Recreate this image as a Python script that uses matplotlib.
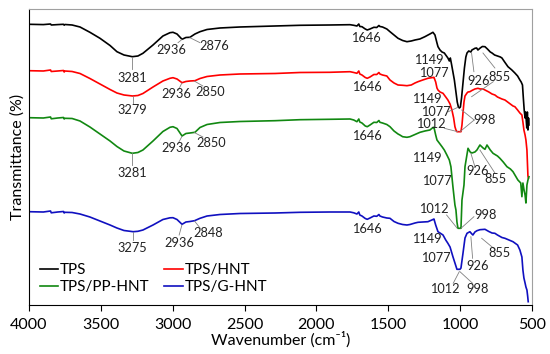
import matplotlib
matplotlib.use("Agg")
import matplotlib.pyplot as plt

plt.rcParams['font.family'] = ['Lato', 'DejaVu Sans']

# ---------------- data (wavenumber, offset transmittance, a.u.) ----------------
tps_wn = [4000, 3900, 3850, 3845, 3800, 3760, 3755, 3750, 3700, 3645, 3576, 3506, 3436, 3388, 3339,
          3281, 3242, 3207, 3137, 3068, 3019, 2998, 2970, 2935, 2908, 2880, 2845, 2810, 2761, 2671,
          2532, 2288, 2114, 1906, 1766, 1740, 1718, 1705, 1698, 1683, 1660, 1646, 1627, 1600, 1580,
          1565, 1558, 1540, 1510, 1488, 1460, 1432, 1400, 1370, 1340, 1314, 1280, 1245, 1210, 1189,
          1175, 1161, 1154, 1140, 1126, 1110, 1095, 1085, 1075, 1068, 1060, 1050, 1040, 1029, 1020,
          1012, 1005, 998, 990, 980, 970, 960, 952, 940, 925, 918, 905, 897, 885, 876, 860, 845, 827,
          810, 790, 778, 760, 740, 720, 709, 690, 667, 640, 619, 600, 584, 575, 566, 560, 554, 548,
          544, 540, 536, 532, 528, 524, 521]
tps_t = [280.7, 280.4, 281.0, 280.0, 280.4, 280.7, 279.8, 280.5, 280.0, 278.0, 272.7, 266.7, 259.5, 253.3, 250.0,
         248.3, 249.0, 251.7, 260.0, 269.0, 272.3, 272.7, 271.0, 265.7, 267.5, 267.7, 271.0, 273.3, 275.5, 277.0,
         278.0, 279.0, 279.7, 280.0, 280.3, 279.7, 279.0, 281.0, 278.5, 278.3, 276.0, 275.0, 276.0, 277.7, 277.5,
         279.5, 278.5, 278.0, 276.0, 273.3, 270.0, 266.7, 264.5, 263.3, 264.0, 265.0, 266.0, 268.3, 271.0, 272.7,
         270.0, 262.0, 258.3, 255.0, 253.0, 252.0, 249.0, 247.0, 244.0, 247.0, 241.0, 233.0, 225.0, 213.0, 203.0,
         198.0, 197.0, 198.0, 207.0, 222.0, 237.0, 248.0, 252.0, 254.0, 253.0, 255.0, 256.0, 256.7, 257.0, 255.0, 257.0, 258.5, 258.3,
         256.0, 253.0, 252.0, 250.0, 249.0, 248.0, 247.0, 243.0, 238.3, 235.0, 232.0, 229.0, 225.0, 223.0, 220.0, 207.0, 195.0, 187.0,
         193.0, 185.0, 177.0, 193.0, 175.0, 187.0, 180.0]

hnt_wn = [4000, 3900, 3850, 3845, 3800, 3760, 3755, 3750, 3700, 3645, 3576, 3506, 3436, 3388, 3339,
          3279, 3242, 3207, 3137, 3068, 3019, 2998, 2970, 2935, 2908, 2880, 2845, 2810, 2761, 2671,
          2532, 2288, 2114, 1906, 1766, 1740, 1718, 1705, 1698, 1683, 1660, 1646, 1627, 1600, 1580,
          1565, 1558, 1540, 1510, 1488, 1460, 1432, 1400, 1370, 1340, 1314, 1293, 1260, 1224, 1189,
          1182, 1170, 1161, 1154, 1140, 1119, 1100, 1085, 1070, 1057, 1045, 1036, 1029, 1022, 1012,
          1001, 994, 987, 980, 973, 966, 952, 945, 932, 918, 897, 876, 860, 840, 827, 800, 778, 758,
          740, 709, 688, 660, 632, 619, 600, 584, 570, 563, 556, 548, 542, 535, 531, 528, 525]
hnt_t = [234.3, 234.0, 235.0, 233.5, 234.0, 234.5, 233.0, 234.0, 233.5, 231.5, 226.5, 221.0, 215.5, 212.0, 210.0,
         209.0, 209.5, 211.5, 218.0, 224.0, 226.7, 227.3, 226.0, 222.3, 223.5, 224.0, 224.3, 226.5, 228.5, 230.0,
         231.0, 231.5, 232.5, 232.7, 233.3, 232.5, 231.7, 234.0, 231.0, 230.0, 227.5, 226.7, 228.0, 230.5, 230.5,
         232.5, 231.0, 230.0, 229.0, 225.0, 222.0, 220.0, 219.7, 219.3, 220.0, 222.0, 223.3, 225.0, 226.7, 227.5,
         227.7, 223.0, 217.0, 215.0, 213.0, 211.7, 208.0, 205.0, 201.0, 195.0, 187.0, 178.3, 175.0, 173.3, 173.3,
         173.3, 173.3, 180.0, 192.0, 203.0, 209.0, 212.0, 213.0, 213.3, 214.5, 216.0, 216.7, 216.0, 216.0, 215.0, 213.0, 211.0, 210.0,
         208.0, 206.0, 205.0, 202.0, 199.0, 198.3, 195.0, 192.0, 190.0, 183.0, 175.0, 170.0, 165.0, 155.0, 140.0, 129.0, 127.0]

pp_wn = [4000, 3900, 3850, 3845, 3800, 3760, 3755, 3750, 3700, 3645, 3576, 3506, 3436, 3388, 3339,
         3281, 3242, 3207, 3137, 3068, 3019, 2998, 2970, 2935, 2908, 2880, 2845, 2810, 2761, 2671,
         2532, 2288, 2114, 1906, 1766, 1740, 1718, 1705, 1698, 1683, 1660, 1646, 1627, 1600, 1580,
         1565, 1558, 1540, 1510, 1488, 1460, 1432, 1419, 1400, 1370, 1349, 1314, 1279, 1245, 1210,
         1189, 1182, 1170, 1161, 1140, 1126, 1110, 1092, 1075, 1064, 1050, 1036, 1029, 1022, 1015,
         1001, 994, 987, 973, 966, 945, 930, 918, 897, 883, 862, 840, 827, 813, 790, 771, 740, 723,
         700, 674, 650, 632, 598, 578, 570, 563, 555, 548, 542, 535, 528, 521]
pp_t = [187.3, 187.0, 188.0, 186.2, 187.0, 187.5, 186.0, 186.7, 186.5, 184.0, 178.0, 171.0, 164.0, 158.5, 154.0,
        151.7, 152.5, 155.0, 164.0, 173.5, 177.7, 178.3, 176.5, 169.0, 171.5, 172.0, 172.7, 177.5, 180.5, 182.5,
        183.5, 184.3, 185.3, 185.7, 186.0, 185.0, 183.3, 186.0, 183.0, 182.0, 179.0, 178.3, 180.0, 182.7, 182.5,
        184.5, 182.7, 182.0, 180.5, 178.3, 174.0, 171.0, 170.0, 168.3, 167.7, 168.3, 170.5, 172.7, 174.0, 175.0,
        177.5, 177.7, 170.0, 165.0, 161.0, 158.3, 155.0, 150.0, 145.0, 138.3, 118.3, 100.0, 95.0, 83.0, 76.7,
        76.7, 76.7, 105.0, 120.0, 138.3, 156.7, 153.0, 152.0, 153.0, 155.0, 160.0, 157.0, 155.7, 160.0, 155.0, 151.7, 149.0, 146.7,
        143.0, 138.3, 136.0, 133.3, 125.0, 122.0, 108.3, 122.0, 115.0, 110.0, 102.0, 120.0, 125.0, 128.3]

g_wn = [4000, 3900, 3850, 3845, 3800, 3760, 3755, 3750, 3700, 3645, 3576, 3506, 3436, 3388, 3339,
        3275, 3242, 3207, 3137, 3068, 3019, 2998, 2970, 2935, 2908, 2880, 2848, 2810, 2761, 2671,
        2532, 2288, 2114, 1906, 1766, 1740, 1718, 1705, 1698, 1683, 1660, 1646, 1627, 1600, 1580,
        1565, 1558, 1540, 1510, 1488, 1460, 1432, 1400, 1370, 1349, 1314, 1293, 1260, 1224, 1189,
        1182, 1170, 1154, 1140, 1119, 1100, 1085, 1070, 1050, 1036, 1022, 1012, 1001, 994, 980,
        966, 952, 932, 918, 911, 897, 883, 862, 827, 800, 778, 758, 740, 709, 688, 660, 632, 600,
        584, 570, 563, 556, 548, 542, 535, 530, 526]
g_t = [93.3, 93.0, 94.0, 92.2, 93.0, 93.5, 92.0, 92.7, 92.5, 91.0, 88.0, 84.0, 80.0, 77.0, 74.5,
       73.3, 73.7, 75.0, 80.0, 85.5, 87.2, 87.3, 85.5, 80.7, 83.0, 83.5, 84.3, 86.7, 89.0, 90.5,
       91.5, 92.0, 92.7, 93.0, 93.0, 92.2, 91.0, 93.0, 90.0, 89.0, 86.5, 85.7, 87.0, 89.0, 88.7,
       90.5, 89.0, 88.0, 87.0, 86.7, 83.5, 81.7, 80.5, 80.0, 80.5, 82.0, 82.7, 83.0, 83.3, 85.5,
       86.0, 80.0, 73.3, 72.0, 70.0, 65.0, 61.7, 58.0, 48.3, 42.0, 35.7, 35.7, 35.7, 37.0, 51.7,
       67.0, 71.7, 73.3, 71.0, 70.0, 73.0, 74.3, 75.3, 75.7, 73.5, 72.0, 71.7, 70.0, 67.5, 66.7, 65.0, 63.3, 60.0,
       55.0, 48.0, 35.0, 27.0, 22.0, 18.0, 15.0, 9.0, 3.3]

series = [
    ("TPS", tps_wn, tps_t, "#000000"),
    ("TPS/HNT", hnt_wn, hnt_t, "#ff0000"),
    ("TPS/PP-HNT", pp_wn, pp_t, "#118811"),
    ("TPS/G-HNT", g_wn, g_t, "#1010c0"),
]

# peak labels: (text, x, y, leader segments)
annotations = [
    ("3281", 3281, 227, [((3281, 248), (3281, 236))]),
    ("2936", 3007, 255, [((2936, 265.5), (2963, 262.3))]),
    ("2876", 2713, 259, [((2880, 267.3), (2810, 262.3))]),
    ("3279", 3281, 195, [((3279, 209), (3279, 201))]),
    ("2936", 2972, 210.7, [((2936, 222), (2960, 215))]),
    ("2850", 2741, 212.7, [((2850, 224), (2790, 219))]),
    ("3281", 3281, 132.3, [((3281, 151.5), (3281, 140))]),
    ("2936", 2977, 156.7, [((2936, 168.5), (2960, 162))]),
    ("2850", 2729, 161.7, [((2850, 172.5), (2790, 168))]),
    ("3275", 3281, 56.7, [((3275, 73), (3275, 65))]),
    ("2936", 2954, 62.3, [((2936, 80), (2955, 70))]),
    ("2848", 2752, 72.3, [((2848, 84), (2808, 76.7))]),
    ("1646", 1655, 266.7, []),
    ("1646", 1650, 217.7, []),
    ("1646", 1650, 169, []),
    ("1646", 1650, 75.7, []),
    ("1149", 1215, 245, []),
    ("1077", 1180, 232.3, []),
    ("926", 869, 224, [((920, 251.7), (904, 233.3))]),
    ("855", 723, 228.3, [((841, 252), (758, 237)), ((769, 223.3), (920, 208.3))]),
    ("1149", 1233, 205.7, []),
    ("1077", 1170, 193.3, [((1082, 193.3), (1015, 197.7))]),
    ("1012", 1203, 181, [((1110, 176.7), (1017, 173.3))]),
    ("998", 832, 185, [((902, 185), (989, 195)), ((902, 185), (1001, 173.3))]),
    ("1149", 1233, 146.7, []),
    ("1077", 1159, 124.3, []),
    ("926", 878, 134.3, [((925, 151.7), (897, 138.3))]),
    ("855", 751, 126, [((862, 155), (758, 132))]),
    ("1012", 1182, 95.7, [((1094, 90), (1020, 76.7))]),
    ("998", 820, 90, [((904, 88.3), (994, 76.7))]),
    ("1149", 1229, 65.7, []),
    ("1077", 1168, 47.3, []),
    ("926", 881, 39.3, [((925, 68.3), (913, 46.7))]),
    ("855", 728, 51.7, [((850, 66.7), (758, 55.7))]),
    ("1012", 1105, 15.7, [((1006, 33.3), (1048, 21.7))]),
    ("998", 881, 15.7, [((1001, 33.3), (913, 21.7))]),
]

xticks = [4000, 3500, 3000, 2500, 2000, 1500, 1000, 500]

fig = plt.figure(figsize=(5.5, 3.54), dpi=100)
ax = fig.add_axes([0.0527, 0.1384, 0.9145, 0.8362])

lines = {}
for name, wn, t, col in series:
    lines[name], = ax.plot(wn, t, color=col, lw=1.2, label=name)

for txt, x, y, segs in annotations:
    ax.text(x, y, txt, fontsize=9.2, ha='center', va='center', color='#222222')
    for (x1, y1), (x2, y2) in segs:
        ax.plot([x1, x2], [y1, y2], color='#808080', lw=0.6)

ax.set_xlim(4000, 500)
ax.set_ylim(0, 296)
ax.set_xticks(xticks)
ax.set_xticklabels([str(v) for v in xticks], fontsize=11.5)
ax.set_yticks([])
ax.tick_params(axis='x', direction='out', length=4, width=0.8, pad=5)
ax.set_xlabel("Wavenumber (cm⁻¹)", fontsize=11.5, labelpad=0)
ax.set_ylabel("Transmittance (%)", fontsize=11.5, labelpad=3)
for s in ['top', 'right']:
    ax.spines[s].set_color('#a0a0a0')
for s in ['left', 'bottom']:
    ax.spines[s].set_color('#000000')

order = ["TPS", "TPS/PP-HNT", "TPS/HNT", "TPS/G-HNT"]
ax.legend([lines[n] for n in order], order, ncol=2, loc='lower left',
          bbox_to_anchor=(0.0, 0.0), frameon=False, fontsize=11,
          handlelength=1.2, handletextpad=0.1, columnspacing=1.0,
          labelspacing=0.2, borderaxespad=0.3)

fig.savefig("out.png", dpi=100)
